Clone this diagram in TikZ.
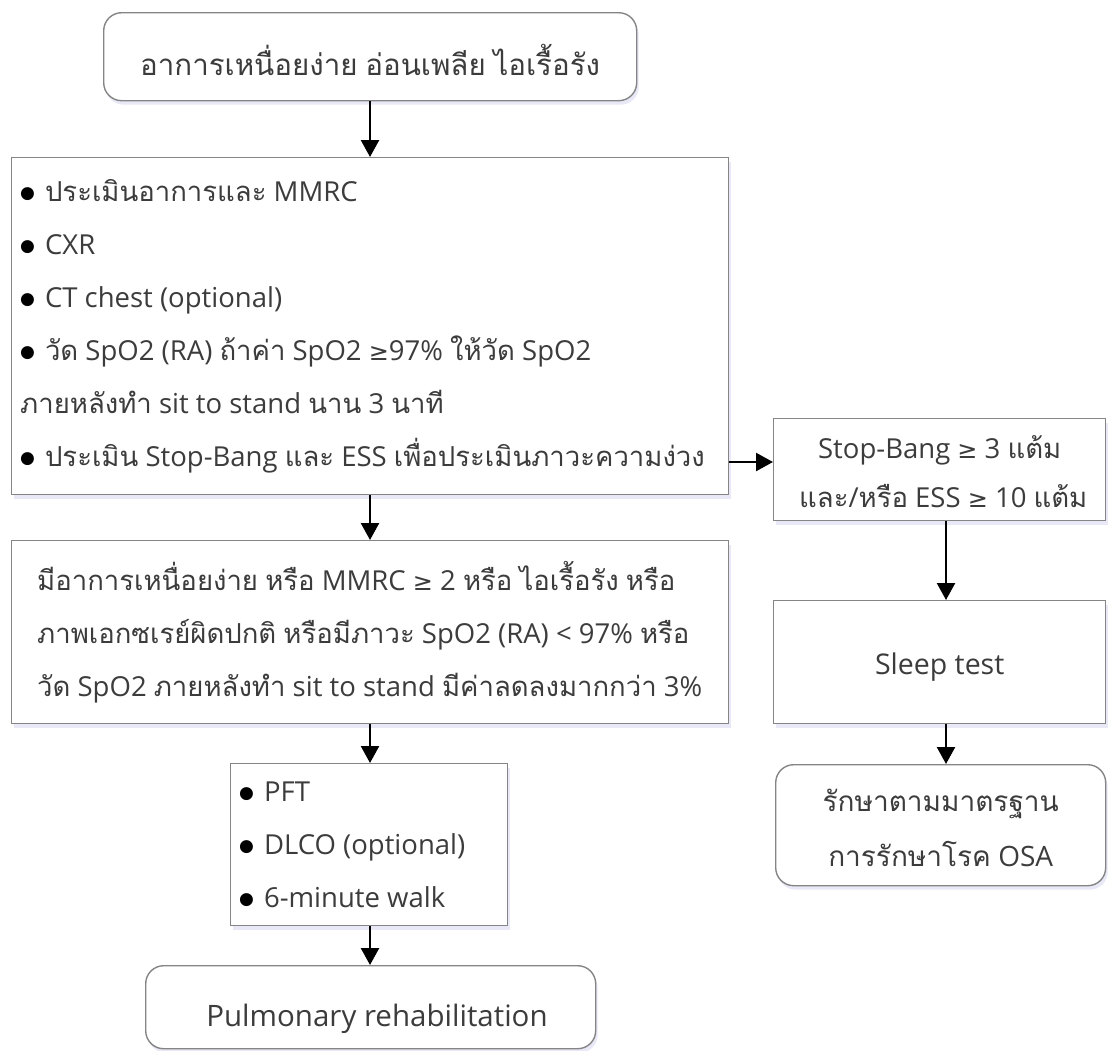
\documentclass[tikz,border=0pt]{standalone}
\usepackage{fontspec}
\setmainfont{Open Sans}
\newfontfamily\thaifont[Script=Thai]{Loma}
\newfontfamily\symf{DejaVu Sans}
\XeTeXinterchartokenstate=1
\newXeTeXintercharclass\thaicls
\newcount\tmpc
\tmpc="0E00
\loop \XeTeXcharclass\tmpc=\thaicls \advance\tmpc by 1 \ifnum\tmpc<"0E80 \repeat
\XeTeXinterchartoks 0 \thaicls = {\begingroup\thaifont}
\XeTeXinterchartoks 4095 \thaicls = {\begingroup\thaifont}
\XeTeXinterchartoks \thaicls 0 = {\endgroup}
\XeTeXinterchartoks \thaicls 4095 = {\endgroup}
\usetikzlibrary{arrows.meta,shadows}
\definecolor{boxgray}{HTML}{858585}
\definecolor{txt}{HTML}{3C3C3C}
\newcommand{\bul}{\raisebox{3pt}{\color{black}\symf\fontsize{17}{17}\selectfont ●}\hspace{10pt}}
\newcommand{\gsym}{{\symf\fontsize{24}{24}\selectfont ≥}}
\begin{document}
\begin{tikzpicture}[x=1pt,y=-1pt,
  box/.style={draw=boxgray, line width=1.4pt, fill=white, inner sep=0pt,
    anchor=north west,
    drop shadow={shadow xshift=2pt, shadow yshift=-4pt, fill=blue!50!gray, opacity=0.12}},
  rbox/.style={box, rounded corners=18pt},
  tblk/.style={text=txt, inner sep=0pt, align=left, anchor=west, font=\fontsize{27.5}{53}\selectfont},
  tctr/.style={text=txt, inner sep=0pt, align=center},
  arr/.style={line width=2.4pt, -{Triangle[width=18pt,length=17pt]}}]
\useasboundingbox (0,0) rectangle (1113,1050);

% boxes
\node[rbox, minimum width=533pt, minimum height=88pt] (top) at (103,12) {};
\node[box, minimum width=717pt, minimum height=337pt] (assess) at (11,157) {};
\node[box, minimum width=717pt, minimum height=183pt] (cond) at (11,540) {};
\node[box, minimum width=277pt, minimum height=162pt] (tests) at (230,763) {};
\node[rbox, minimum width=450pt, minimum height=83pt] (pr) at (145,965) {};
\node[box, minimum width=332pt, minimum height=102pt] (stop) at (773,418) {};
\node[box, minimum width=332pt, minimum height=123pt] (sleep) at (773,600) {};
\node[rbox, minimum width=330pt, minimum height=121pt] (osa) at (775,764) {};

% texts
\node[tctr, font=\fontsize{29.5}{36}\selectfont] (topt) at (370,60)
  {อาการเหนื่อยง่าย อ่อนเพลีย ไอเรื้อรัง};

\node[tblk] (assesst) at ([xshift=9pt]assess.west)
  {\bul ประเมินอาการและ MMRC\\
   \bul CXR\\
   \bul CT chest (optional)\\
   \bul วัด SpO2 (RA) ถ้าค่า SpO2 \gsym97\% ให้วัด SpO2\\
   ภายหลังทำ sit to stand นาน 3 นาที\\
   \bul ประเมิน Stop-Bang และ ESS เพื่อประเมินภาวะความง่วง};

\node[tblk] (condt) at ([xshift=26pt]cond.west)
  {มีอาการเหนื่อยง่าย หรือ MMRC \gsym{} 2 หรือ ไอเรื้อรัง หรือ\\
   ภาพเอกซเรย์ผิดปกติ หรือมีภาวะ SpO2 (RA) < 97\% หรือ\\
   วัด SpO2 ภายหลังทำ sit to stand มีค่าลดลงมากกว่า 3\%};

\node[tblk] (testst) at ([xshift=9pt]tests.west)
  {\bul PFT\\ \bul DLCO (optional)\\ \bul 6-minute walk};

\node[tctr, font=\fontsize{29.5}{36}\selectfont] (prt) at (377,1019) {Pulmonary rehabilitation};

\node[tctr, font=\fontsize{27.5}{49}\selectfont] (stopt) at ([yshift=-2pt]stop.center)
  {Stop-Bang \gsym{} 3 แต้ม\\ \ และ/หรือ ESS \gsym{} 10 แต้ม};

\node[tctr, font=\fontsize{28.5}{36}\selectfont] (sleept) at ([yshift=-5pt]sleep.center) {Sleep test};

\node[tctr, font=\fontsize{28}{55}\selectfont] (osat) at ([yshift=-3pt]osa.center)
  {รักษาตามมาตรฐาน\\ การรักษาโรค OSA};

% connectors
\draw[arr] (top.south -| 370,0) -- (assess.north -| 370,0);
\draw[arr] (assess.south -| 370,0) -- (cond.north -| 370,0);
\draw[arr] (cond.south -| 370,0) -- (tests.north -| 370,0);
\draw[arr] (tests.south -| 370,0) -- (pr.north -| 370,0);
\draw[arr] (assess.east |- 0,462) -- (stop.west |- 0,462);
\draw[arr] (stop.south -| 946,0) -- (sleep.north -| 946,0);
\draw[arr] (sleep.south -| 946,0) -- (osa.north -| 946,0);
\end{tikzpicture}
\end{document}
